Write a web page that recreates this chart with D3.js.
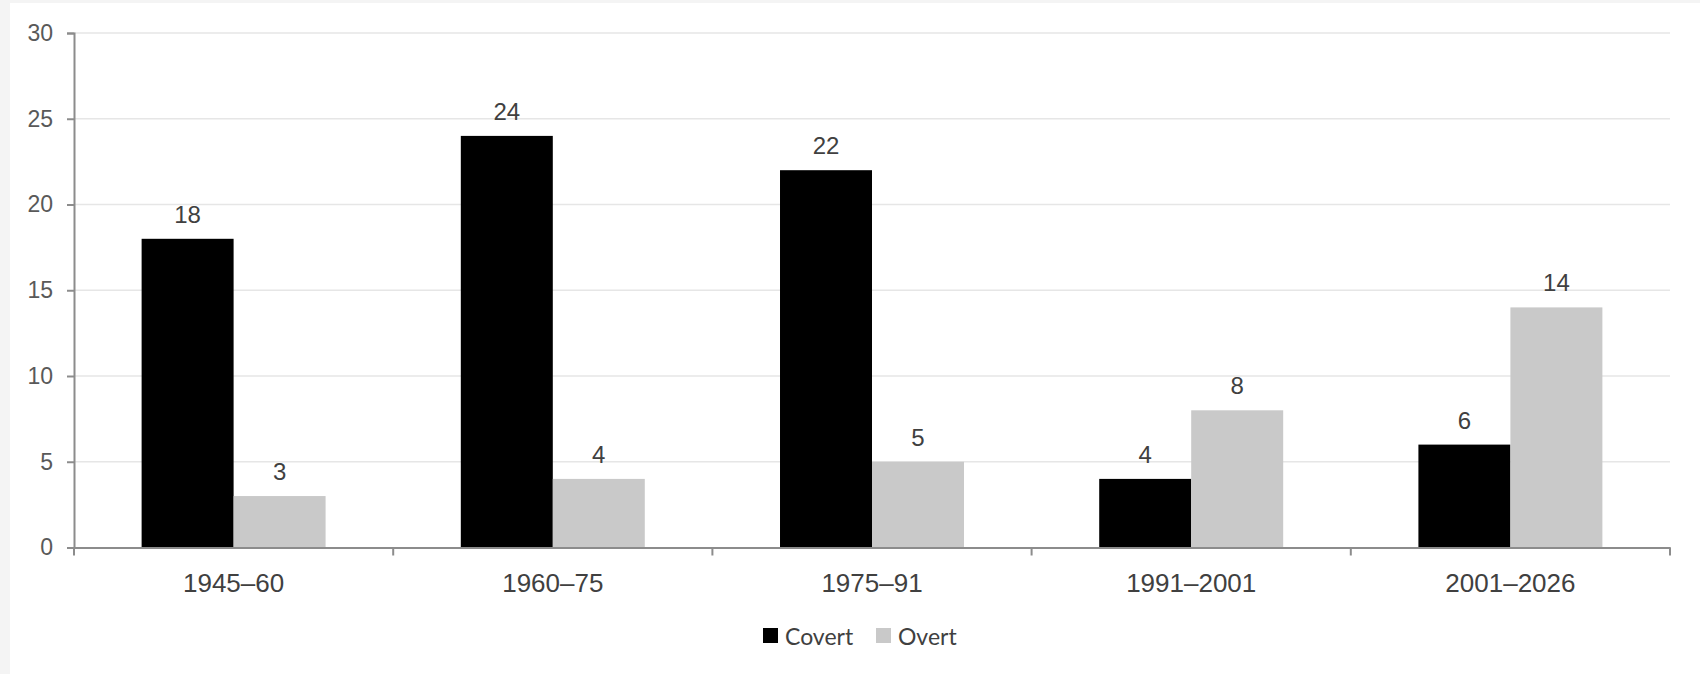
<!DOCTYPE html>
<html>
<head>
<meta charset="utf-8">
<script src="https://cdn.jsdelivr.net/npm/d3@7"></script>
<style>
  html, body { margin: 0; padding: 0; background: #f4f4f4; }
  svg { display: block; }
</style>
</head>
<body>
<script>
const categories = ["1945–60", "1960–75", "1975–91", "1991–2001", "2001–2026"];
const seriesNames = ["Covert", "Overt"];
const covert = [18, 24, 22, 4, 6];
const overt = [3, 4, 5, 8, 14];
const yTicks = [0, 5, 10, 15, 20, 25, 30];
const colors = ["#000000", "#c9c9c9"];

(function () {
const W = 1700, H = 674;
const svg = d3.select("body").append("svg").attr("width", W).attr("height", H);
svg.append("rect").attr("x", 0).attr("y", 0).attr("width", W).attr("height", H).attr("fill", "#f4f4f4");
svg.append("rect").attr("x", 10).attr("y", 3).attr("width", W - 10).attr("height", H - 3).attr("fill", "#ffffff");

const mLeft = 74, mRight = 1670, mTop = 33, mBottom = 547.5;
const x = d3.scaleBand().domain(categories).range([mLeft, mRight]).paddingInner(0).paddingOuter(0);
const xs = d3.scaleBand().domain(seriesNames).range([0, x.bandwidth()]).paddingInner(0).paddingOuter(0.735);
const y = d3.scaleLinear().domain([0, 30]).range([mBottom, mTop]);

// gridlines
svg.append("g").selectAll("line").data(yTicks.filter(d => d > 0)).join("line")
  .attr("x1", mLeft).attr("x2", mRight)
  .attr("y1", d => y(d)).attr("y2", d => y(d))
  .attr("stroke", "#e6e6e6").attr("stroke-width", 1.5);

// bars
const data = categories.map((c, i) => ({ c, vals: [covert[i], overt[i]] }));
const groups = svg.append("g").selectAll("g").data(data).join("g")
  .attr("transform", d => `translate(${x(d.c)},0)`);
groups.selectAll("rect").data(d => d.vals.map((v, j) => ({ v, s: seriesNames[j], j }))).join("rect")
  .attr("x", d => xs(d.s)).attr("width", xs.bandwidth())
  .attr("y", d => y(d.v)).attr("height", d => y(0) - y(d.v))
  .attr("fill", d => colors[d.j]);
groups.selectAll("text").data(d => d.vals.map((v, j) => ({ v, s: seriesNames[j], j }))).join("text")
  .attr("x", d => xs(d.s) + xs.bandwidth() / 2)
  .attr("y", d => y(d.v) - 16)
  .attr("text-anchor", "middle")
  .attr("font-family", "Liberation Sans, Arial, sans-serif")
  .attr("font-size", 24).attr("fill", "#404040")
  .text(d => d.v);

// y axis
const yAxis = svg.append("g").attr("transform", `translate(${mLeft},0)`)
  .call(d3.axisLeft(y).tickValues(yTicks).tickSize(7).tickPadding(14));
yAxis.select(".domain").attr("stroke", "#8c8c8c").attr("stroke-width", 2);
yAxis.selectAll(".tick line").attr("stroke", "#8c8c8c").attr("stroke-width", 2);
yAxis.selectAll(".tick text").attr("font-family", "Liberation Sans, Arial, sans-serif")
  .attr("font-size", 23).attr("fill", "#595959");

// x axis
const xAxis = svg.append("g").attr("transform", `translate(0,${mBottom})`)
  .call(d3.axisBottom(x).tickSize(0).tickPadding(0));
xAxis.select(".domain").attr("stroke", "#8c8c8c").attr("stroke-width", 2);
xAxis.selectAll(".tick text").attr("font-family", "Liberation Sans, Arial, sans-serif")
  .attr("font-size", 26).attr("fill", "#404040").attr("dy", 0).attr("y", 44);
// boundary ticks
const bounds = categories.map(c => x(c)).concat([mRight]);
xAxis.append("g").selectAll("line").data(bounds).join("line")
  .attr("x1", d => d).attr("x2", d => d).attr("y1", 0).attr("y2", 8)
  .attr("stroke", "#8c8c8c").attr("stroke-width", 2);

// legend
const legend = svg.append("g");
const legendX = [763, 876];
seriesNames.forEach((s, i) => {
  legend.append("rect").attr("x", legendX[i]).attr("y", 628).attr("width", 15).attr("height", 15).attr("fill", colors[i]);
  legend.append("text").attr("x", legendX[i] + 22).attr("y", 645)
    .attr("font-family", "Lato, Open Sans, sans-serif").attr("font-size", 23).attr("fill", "#404040")
    .text(s);
});
})();
</script>
</body>
</html>
